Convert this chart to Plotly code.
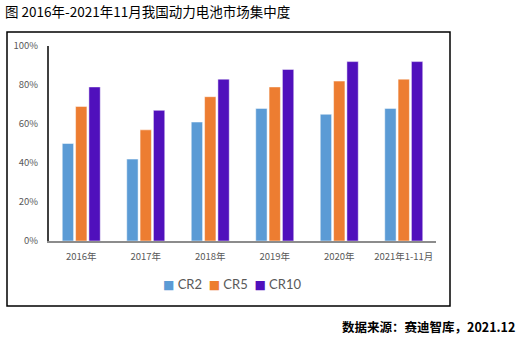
import plotly.graph_objects as go

# Battery market concentration (share of top 2 / 5 / 10 makers)
categories = ["2016年", "2017年", "2018年", "2019年", "2020年", "2021年1-11月"]
cr2 = [0.50, 0.42, 0.61, 0.68, 0.65, 0.68]
cr5 = [0.69, 0.57, 0.74, 0.79, 0.82, 0.83]
cr10 = [0.79, 0.67, 0.83, 0.88, 0.92, 0.92]

series = [("CR2", cr2, "#5B9BD5"), ("CR5", cr5, "#ED7D31"), ("CR10", cr10, "#5010BC")]

W, H = 524, 342
L, R, T, B = 49, 436, 46, 241  # plot area in pixels


def px(x):
    return (x - L) / (R - L)


def py(y):
    return (B - y) / (B - T)


fig = go.Figure()
for name, vals, color in series:
    fig.add_trace(go.Bar(
        x=categories, y=vals, name=name, showlegend=False,
        marker=dict(color=color, line=dict(color="rgba(255,255,255,0.6)", width=0.8)),
    ))

# compact key: coloured squares followed by series names
nb = "\u00a0"
key_parts = []
for name, _, color in series:
    key_parts.append(
        f'<span style="color:{color};font-family:DejaVu Sans;font-size:12px">■</span>{nb}{name}'
    )
key_text = (nb * 2).join(key_parts)

tick_font = dict(family="Noto Sans CJK SC, Noto Sans, sans-serif", size=9.5, color="#595959")

fig.update_layout(
    width=W, height=H,
    margin=dict(l=L, r=W - R, t=T, b=H - B, pad=0),
    paper_bgcolor="white", plot_bgcolor="white",
    barmode="group", bargap=0.38, bargroupgap=0.15,
    xaxis=dict(
        showline=True, linecolor="#8c8c8c", linewidth=1.5, showgrid=False,
        ticks="", tickfont=tick_font, ticklabelstandoff=6, fixedrange=True,
    ),
    yaxis=dict(
        range=[0, 1], dtick=0.2, tickformat=".0%", showline=True,
        linecolor="#404040", linewidth=2, showgrid=False, zeroline=False,
        ticks="", tickfont=tick_font, ticklabelstandoff=7, fixedrange=True,
    ),
    shapes=[
        dict(type="rect", xref="paper", yref="paper",
             x0=px(7), x1=px(450), y0=py(306), y1=py(32),
             line=dict(color="black", width=1.5), fillcolor="rgba(0,0,0,0)", layer="below"),
    ],
    annotations=[
        dict(text="图 2016年-2021年11月我国动力电池市场集中度", xref="paper", yref="paper",
             x=px(3), y=py(11), xanchor="left", yanchor="middle", showarrow=False,
             font=dict(family="Noto Sans CJK SC, sans-serif", size=13.5, color="black")),
        dict(text="<b>数据来源：赛迪智库，2021.12</b>", xref="paper", yref="paper",
             x=px(517), y=py(326), xanchor="right", yanchor="middle", showarrow=False,
             font=dict(family="Noto Sans CJK SC, sans-serif", size=12.5, color="black")),
        dict(text=key_text, xref="paper", yref="paper",
             x=px(161), y=py(284), xanchor="left", yanchor="middle", showarrow=False,
             font=dict(family="Lato, Open Sans, sans-serif", size=13, color="#595959")),
    ],
)

fig.write_html("out.html")
